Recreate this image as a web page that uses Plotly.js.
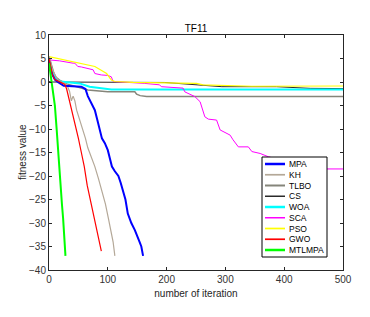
<!DOCTYPE html>
<html>
<head>
<meta charset="utf-8">
<script src="https://cdn.plot.ly/plotly-3.0.1.min.js"></script>
<style>html,body{margin:0;padding:0;background:#fff;}#chart{width:370px;height:317px;}</style>
</head>
<body>
<div id="chart"></div>
<script>
// Data (x = iteration, y = fitness value)
var names = ["MPA","KH","TLBO","CS","WOA","SCA","PSO","GWO","MTLMPA"];
var colors = ["#0000ff","#b4a898","#85857a","#2a2a2a","#00ffff","#ff00ff","#ffff00","#ff0000","#00ff00"];
var widths = [2,1.2,1.5,1,2,1,1.2,1.2,2];

var mpaX = [0,3,6,10,15,20,25,55,62,66,72,78,82,86,90,95,100,104,107,112,118,122,126,130,134,140,146,150,154,157,160];
var mpaY = [4.5,2.5,1.5,0.5,0,-0.5,-0.8,-1.0,-1.5,-3,-4.5,-6,-8,-10,-12,-13,-14.5,-16.5,-18,-19,-20,-21.5,-23,-25,-28,-30,-31.5,-33,-34,-35,-37];

var khX = [0,5,10,15,22,30,35,38,41,44,47,52,58,62,66,72,78,84,90,96,101,105,109,112];
var khY = [5.5,3,1.5,0.5,0,-0.5,-2,-4,-3,-4,-6,-8,-10,-12,-14,-16,-18,-20.5,-23,-26,-29,-31.5,-34,-37];

var tlboX = [0,4,8,12,18,30,49,66,100,146,149,155,166,500];
var tlboY = [5.5,3.5,2,1,0.4,-0.4,-1.0,-1.7,-2.1,-2.1,-2.6,-2.9,-3.1,-3.1];

var csX = [0,5,197,248,294,387,444,500];
var csY = [0.1,0,-0.1,-0.6,-1.0,-1.0,-1.35,-1.4];

var woaX = [0,4,8,14,20,27,52,69,92,100,106,150,500];
var woaY = [4.5,2.5,1.2,0.4,0.1,0,-0.3,-1.0,-1.3,-1.4,-1.6,-1.6,-1.6];

var scaX = [0,18,41,44,49,55,75,78,89,100,106,109,163,188,191,228,231,248,257,265,271,285,291,308,313,322,339,345,359,373,400,430,460,472,500];
var scaY = [4.7,4.5,4.0,4.0,3.3,3.2,2.6,1.8,1.5,1.4,1.1,0.1,-0.3,-0.6,-1.0,-1.3,-2.1,-3.1,-4.2,-7.4,-7.9,-8.1,-10.2,-11.3,-12.3,-13.8,-13.8,-14.8,-15.2,-15.9,-16.8,-17.8,-18.3,-18.5,-18.5];

var psoX = [0,27,49,78,98,103,106,112,143,251,262,345,500];
var psoY = [5.4,4.7,4.0,3.3,1.8,1.0,0.4,0.1,-0.1,-0.3,-0.6,-0.9,-0.85];

var gwoX = [0,3,6,10,20,27,30,35,40,45,50,55,60,65,70,75,80,85,89];
var gwoY = [5,3,1.5,0.5,0,-0.5,-1.5,-4,-7,-9.5,-12,-15,-18,-22,-25,-28,-31,-34,-36];

var mtlX = [0,2,4,6,10,13,15,18,20,22,24,26,28];
var mtlY = [4,2,0,-2,-5,-10,-14,-19,-22,-26,-29,-33,-37];

var xTicks = [0,100,200,300,400,500];
var yTicks = [-40,-35,-30,-25,-20,-15,-10,-5,0,5,10];

var xs = [mpaX,khX,tlboX,csX,woaX,scaX,psoX,gwoX,mtlX];
var ys = [mpaY,khY,tlboY,csY,woaY,scaY,psoY,gwoY,mtlY];

// draw order: back to front
var order = [3,2,4,5,6,1,0,7,8];
var traces = order.map(function(i){
  return {x: xs[i], y: ys[i], type:'scatter', mode:'lines', name:names[i],
    line:{color:colors[i], width:widths[i]}, showlegend:false, hoverinfo:'skip'};
});

var FONT = 'Liberation Sans, Arial';
// custom compact legend (MATLAB style)
var L = 49, R = 343, T = 35, B = 270;
function px(p){ return (p - L) / (R - L); }
function py(p){ return (B - p) / (B - T); }
var shapes = [{type:'rect', xref:'paper', yref:'paper', x0:px(262), x1:px(327), y0:py(257), y1:py(157),
  line:{color:'#000', width:1}, fillcolor:'#fff', layer:'above'}];
var annotations = [];
names.forEach(function(n, i){
  var yc = 164 + i * 10.75;
  shapes.push({type:'line', xref:'paper', yref:'paper', x0:px(265), x1:px(285), y0:py(yc), y1:py(yc),
    line:{color:colors[i], width:widths[i] + 0.5}, layer:'above'});
  annotations.push({xref:'paper', yref:'paper', x:px(287), y:py(yc), xanchor:'left', yanchor:'middle',
    text:n, showarrow:false, font:{family:FONT, size:8.5, color:'#000'}});
});
// y-axis title placed like the reference
annotations.push({xref:'paper', yref:'paper', x:px(22), y:py(152), xanchor:'center', yanchor:'middle',
  textangle:-90, text:'fitness value', showarrow:false, font:{family:FONT, size:10, color:'#262626'}});

var axisCommon = {showline:true, mirror:'ticks', linecolor:'#262626', linewidth:1, ticks:'inside',
  ticklen:3, tickcolor:'#262626', showgrid:false, zeroline:false,
  tickfont:{family:FONT, size:10, color:'#333'}};

var layout = {
  width:370, height:317,
  margin:{l:49, r:27, t:35, b:47},
  paper_bgcolor:'#fff', plot_bgcolor:'#fff',
  title:{text:'TF11', x:0.5, xanchor:'center', xref:'paper', yref:'paper', y:1, yanchor:'bottom', pad:{b:3},
    font:{family:FONT, size:10, color:'#000'}},
  xaxis: Object.assign({}, axisCommon, {range:[0,500], tickvals:xTicks,
    title:{text:'number of iteration', standoff:5, font:{family:FONT, size:10, color:'#262626'}}}),
  yaxis: Object.assign({}, axisCommon, {range:[-40,10], tickvals:yTicks}),
  shapes:shapes, annotations:annotations
};
Plotly.newPlot('chart', traces, layout, {displayModeBar:false, staticPlot:true});
</script>
</body>
</html>
